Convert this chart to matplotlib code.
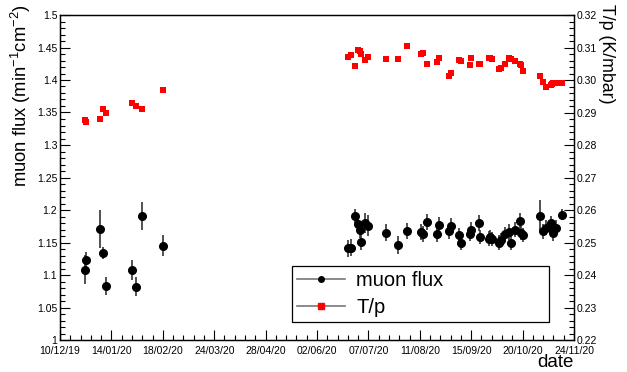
import matplotlib
matplotlib.use("Agg")
import matplotlib.pyplot as plt
import matplotlib.dates as mdates
from matplotlib.lines import Line2D
from matplotlib.ticker import MultipleLocator, FuncFormatter
import numpy as np

plt.rcParams["font.family"] = ["Liberation Sans", "DejaVu Sans"]
plt.rcParams["mathtext.fontset"] = "custom"
plt.rcParams["mathtext.rm"] = "Liberation Sans"
plt.rcParams["mathtext.it"] = "Liberation Sans:italic"

# Data
dates = [
    "2019-12-27", "2019-12-28", "2020-01-06", "2020-01-08", "2020-01-10",
    "2020-01-28", "2020-01-31", "2020-02-04", "2020-02-18",
    "2020-06-23", "2020-06-25", "2020-06-28", "2020-06-30", "2020-07-01",
    "2020-07-02", "2020-07-05", "2020-07-07", "2020-07-19", "2020-07-27",
    "2020-08-02", "2020-08-12", "2020-08-13", "2020-08-16", "2020-08-23",
    "2020-08-24", "2020-08-31", "2020-09-01", "2020-09-07", "2020-09-08",
    "2020-09-14", "2020-09-15", "2020-09-20", "2020-09-21", "2020-09-27",
    "2020-09-28", "2020-09-29", "2020-10-04", "2020-10-05", "2020-10-08",
    "2020-10-11", "2020-10-12", "2020-10-15", "2020-10-18", "2020-10-19",
    "2020-10-20", "2020-11-01", "2020-11-03", "2020-11-05", "2020-11-08",
    "2020-11-09", "2020-11-10", "2020-11-12", "2020-11-16",
]
flux = [
    1.108, 1.123, 1.171, 1.134, 1.083, 1.108, 1.082, 1.191, 1.145,
    1.141, 1.142, 1.191, 1.178, 1.169, 1.151, 1.180, 1.176, 1.165, 1.146,
    1.168, 1.166, 1.163, 1.182, 1.163, 1.177, 1.167, 1.175, 1.162, 1.150,
    1.163, 1.170, 1.180, 1.159, 1.156, 1.159, 1.155, 1.150, 1.154, 1.163,
    1.166, 1.150, 1.170, 1.183, 1.165, 1.162, 1.191, 1.167, 1.173, 1.180,
    1.171, 1.164, 1.173, 1.193,
]
flux_err = [
    0.022, 0.013, 0.029, 0.009, 0.014, 0.015, 0.015, 0.022, 0.016,
    0.013, 0.013, 0.011, 0.012, 0.012, 0.012, 0.016, 0.016, 0.013, 0.014,
    0.012, 0.012, 0.012, 0.012, 0.012, 0.013, 0.012, 0.012, 0.011, 0.012,
    0.011, 0.012, 0.012, 0.011, 0.011, 0.011, 0.011, 0.011, 0.011, 0.011,
    0.012, 0.012, 0.012, 0.012, 0.011, 0.011, 0.025, 0.011, 0.011, 0.011,
    0.011, 0.011, 0.011, 0.009,
]
tp = [
    0.2877, 0.2870, 0.2879, 0.2910, 0.2900, 0.2930, 0.2921, 0.2911, 0.2969,
    0.3071, 0.3077, 0.3042, 0.3092, 0.3088, 0.3080, 0.3063, 0.3072, 0.3065, 0.3065,
    0.3105, 0.3080, 0.3082, 0.3048, 0.3054, 0.3067, 0.3013, 0.3023, 0.3062, 0.3060,
    0.3046, 0.3067, 0.3050, 0.3050, 0.3067, 0.3068, 0.3066, 0.3034, 0.3036, 0.3050,
    0.3069, 0.3066, 0.3058, 0.3048, 0.3046, 0.3028, 0.3013, 0.2995, 0.2979, 0.2985,
    0.2987, 0.2992, 0.2990, 0.2990,
]
x = np.array(dates, dtype="datetime64[D]")

fig = plt.figure(figsize=(6.27, 3.72), dpi=100)
ax = fig.add_axes([60 / 627, 1 - 340 / 372, 514 / 627, 325 / 372])
ax2 = ax.twinx()

ax.errorbar(x, flux, yerr=flux_err, fmt="o", color="black", markersize=5.5,
            ecolor="#333333", elinewidth=1.2, capsize=0, zorder=3)
ax2.plot(x, tp, "s", color="#ff0000", markersize=5, markeredgewidth=0)

t0 = np.datetime64("2019-12-10")
ax.set_xlim(t0, np.datetime64("2020-11-24"))
ax.set_ylim(1, 1.5)
ax2.set_ylim(0.22, 0.32)

major = t0 + np.arange(0, 351, 35)
minor = t0 + np.arange(0, 351, 7)
ax.set_xticks(major)
ax.set_xticks(minor, minor=True)
ax.xaxis.set_major_formatter(mdates.DateFormatter("%d/%m/%y"))

ax.yaxis.set_major_locator(MultipleLocator(0.05))
ax.yaxis.set_minor_locator(MultipleLocator(0.01))
ax2.yaxis.set_major_locator(MultipleLocator(0.01))
ax2.yaxis.set_minor_locator(MultipleLocator(0.002))
ax.yaxis.set_major_formatter(FuncFormatter(lambda v, p: f"{v:.2f}".rstrip("0").rstrip(".")))
ax2.yaxis.set_major_formatter(FuncFormatter(lambda v, p: f"{v:.2f}"))

ax.tick_params(axis="both", which="major", direction="in", length=7, width=0.8,
               labelsize=7.5, top=False, right=False)
ax.tick_params(axis="both", which="minor", direction="in", length=3.5, width=0.8,
               top=False, right=False)
ax.tick_params(axis="x", pad=4.5)
ax.tick_params(axis="y", pad=2)
ax2.tick_params(axis="y", which="major", direction="in", length=7, width=0.8,
                labelsize=7.5, pad=2)
ax2.tick_params(axis="y", which="minor", direction="in", length=3.5, width=0.8)

for a in (ax, ax2):
    for s in a.spines.values():
        s.set_linewidth(0.9)

fig.text(21 / 627, 1 - 4 / 372, r"muon flux (min$^{-1}$cm$^{-2}$)", rotation=90,
         ha="center", va="top", fontsize=13.2)
fig.text(606 / 627, 1 - 4 / 372, "T/p (K/mbar)", rotation=270,
         ha="center", va="top", fontsize=12.8)
fig.text(574 / 627, 0.002, "date", ha="right", va="bottom", fontsize=13.5)

handles = [
    Line2D([], [], color="#777777", lw=1.2, marker="o", markersize=4,
           markerfacecolor="black", markeredgecolor="black"),
    Line2D([], [], color="#777777", lw=1.2, marker="s", markersize=4,
           markerfacecolor="#ff0000", markeredgecolor="#ff0000"),
]
leg = fig.legend(handles, ["muon flux", "T/p"], loc="upper left",
                 bbox_to_anchor=(292 / 627, 1 - 321 / 372, 257 / 627, 55 / 372),
                 mode="expand", fontsize=14.5, frameon=True, fancybox=False,
                 framealpha=1, handlelength=2.4, handletextpad=0.55,
                 borderpad=0.25, labelspacing=0.4, borderaxespad=0)
leg.get_frame().set_edgecolor("black")
leg.get_frame().set_linewidth(0.9)

fig.savefig("out.png", dpi=100)
